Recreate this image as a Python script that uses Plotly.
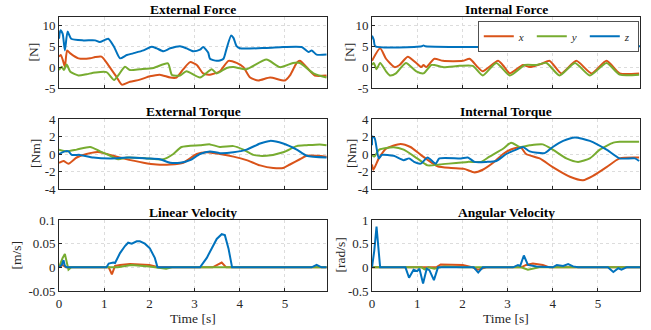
import plotly.graph_objects as go

# ---------------- data ----------------
# External Force
ef_x_t = [0, 0.04, 0.09, 0.13, 0.18, 0.25, 0.43, 0.69, 0.80, 0.94, 1.09, 1.27, 1.39, 1.57, 1.79, 2.01, 2.23, 2.46, 2.60, 2.75, 2.90, 3.05, 3.19, 3.34, 3.56, 3.75, 3.93, 4.08, 4.23, 4.41, 4.67, 5.0, 5.11, 5.26, 5.33, 5.48, 5.66, 5.92]
ef_x = [2.5, 2.9, 1.5, 0.1, 4.0, 3.3, 2.1, 2.1, 2.4, 2.5, 0.5, -2.3, -4.2, -3.5, -3.0, -2.2, -1.8, -2.5, -2.5, -0.5, 1.2, 0.5, -1.5, -1.8, -1, 1.5, 1.0, 0, -2.5, -3.2, -2.5, -3.2, -2, 1, 1.5, 0, -2, -2]
ef_y_t = [0, 0.06, 0.11, 0.17, 0.25, 0.43, 0.61, 0.80, 1.05, 1.22, 1.31, 1.46, 1.57, 1.79, 2.09, 2.41, 2.50, 2.68, 2.82, 3.12, 3.38, 3.49, 3.71, 3.86, 4.15, 4.59, 4.89, 5.18, 5.33, 5.63, 5.92]
ef_y = [-0.7, 0.1, -0.7, 0.6, -1.1, -2.0, -1.7, -1.3, -1.2, -3.1, -2, 0.1, -0.7, -0.5, -0.2, 0.9, -1.9, -2, -1, -2.5, -0.5, -1.5, -0.2, 0, -0.5, 1.8, 0, 1, 1, -1.5, -2.5]
ef_z_t = [0, 0.03, 0.08, 0.13, 0.19, 0.27, 0.54, 0.80, 0.90, 1.09, 1.22, 1.35, 1.50, 1.64, 1.87, 2.05, 2.16, 2.31, 2.46, 2.68, 2.82, 2.97, 3.12, 3.19, 3.30, 3.34, 3.49, 3.56, 3.64, 3.71, 3.81, 3.86, 3.93, 4.0, 4.59, 4.96, 5.37, 5.52, 5.59, 5.70, 5.92]
ef_z = [6.8, 8.8, 8.0, 4.0, 8.5, 6.8, 6.4, 6.4, 6.0, 6.8, 4.8, 2.1, 2.9, 3.3, 4.0, 4.9, 4.5, 3.8, 4.5, 5.0, 4.5, 3.8, 4.2, 4.8, 3.5, 2.0, 1.5, 1.6, 2.0, 4.5, 7.6, 7.0, 5.0, 4.5, 4.6, 4.8, 4.8, 3.6, 4.0, 3.0, 3.0]

# Internal Force
if_x_t = [0, 0.18, 0.31, 0.50, 0.61, 0.79, 0.98, 1.09, 1.14, 1.20, 1.38, 1.57, 2.01, 2.16, 2.34, 2.45, 2.79, 2.93, 3.05, 3.34, 3.49, 3.75, 3.93, 4.19, 4.52, 4.86, 5.19, 5.48, 5.91]
if_x = [1.5, 4.5, 2.0, 0, 0.5, 2.5, 1.0, 0, 0.5, 0, 2.0, 1.5, 1.5, 2.0, 0, -1, 1.5, 0, -1.5, 0.5, 0, 0.8, 1.5, -1.5, 1.5, -1.5, 1.5, -1.5, -1.5]
if_y_t = [0, 0.04, 0.10, 0.18, 0.31, 0.40, 0.53, 0.75, 0.98, 1.14, 1.31, 1.38, 1.57, 1.94, 2.23, 2.45, 2.75, 3.05, 3.38, 3.64, 3.86, 4.15, 4.49, 4.82, 5.19, 5.48, 5.91]
if_y = [0.5, 1, -0.5, 1.0, -1, -2, -1.5, 1.0, -1, -1.5, 0.5, 0.5, 0, 0.3, 0.3, -2, 1, -2, 0.5, 0.5, 1, -2, 1, -2, 1, -1.8, -1.8]
if_z_t = [0, 0.04, 0.07, 1.10, 1.14, 1.18, 5.93]
if_z = [7.5, 6.5, 5.0, 5.0, 5.2, 5.0, 5.0]

# External Torque
et_x_t = [0, 0.10, 0.21, 0.39, 0.61, 0.80, 0.91, 1.13, 1.42, 1.87, 2.16, 2.46, 2.75, 3.05, 3.27, 3.56, 3.86, 4.15, 4.45, 4.74, 4.96, 5.11, 5.33, 5.48, 5.92]
et_x = [-1, -0.8, -1.1, -0.4, 0, 0.2, 0.2, -0.1, -0.5, -1.0, -1.2, -1.2, -1.0, 0, 0.2, 0, -0.3, -0.7, -1.3, -1.6, -1.6, -1.2, -0.6, -0.2, -0.3]
et_y_t = [0, 0.17, 0.39, 0.69, 0.91, 1.05, 1.31, 1.50, 1.94, 2.31, 2.53, 2.71, 3.12, 3.34, 3.56, 3.86, 4.08, 4.30, 4.59, 4.96, 5.26, 5.48, 5.77, 5.92]
et_y = [0.5, 0.3, 0.5, 0.8, 0.3, 0, -0.6, -0.4, -0.5, -0.6, 0, 0.8, 1.0, 1.1, 0.8, 0.9, 0.5, -0.1, -0.2, 0.2, 0.9, 1.0, 1.1, 1.0]
et_z_t = [0, 0.13, 0.21, 0.28, 0.46, 0.76, 1.13, 1.57, 1.94, 2.23, 2.46, 2.68, 2.90, 3.12, 3.34, 3.56, 3.86, 4.15, 4.45, 4.67, 4.96, 5.26, 5.48, 5.92]
et_z = [0, 0.3, 0.3, -0.1, -0.1, -0.4, -0.5, -0.4, -0.5, -0.6, -1.0, -1.0, -0.7, 0, 0.3, 0.1, 0.2, 0.5, 1.2, 1.5, 1.2, 0.5, -0.2, -0.4]

# Internal Torque
it_x_t = [0, 0.03, 0.15, 0.31, 0.63, 0.85, 1.08, 1.45, 1.75, 2.04, 2.27, 2.45, 2.68, 2.90, 3.12, 3.30, 3.41, 3.71, 4.0, 4.38, 4.67, 4.89, 5.19, 5.48, 5.91]
it_x = [-1.2, -1.8, -0.5, 0.6, 1.15, 0.8, -0.1, -1.4, -1.6, -1.7, -2.1, -1.8, -1.0, 0, 0.6, 0.7, 0, -0.5, -1.5, -2.6, -3.0, -2.5, -1.5, -0.5, -0.4]
it_y_t = [0, 0.05, 0.16, 0.48, 0.70, 1.0, 1.23, 1.50, 2.12, 2.41, 2.60, 2.90, 3.08, 3.27, 3.49, 3.78, 4.0, 4.30, 4.56, 4.82, 5.04, 5.34, 5.48, 5.91]
it_y = [-0.1, -0.3, 0.5, 0.77, 0.5, -0.5, -1.3, -1.2, -0.9, -0.9, -0.3, 0.6, 1.3, 0.8, 1.0, 1.1, 0.5, -0.5, -0.9, -0.5, 0.5, 1.3, 1.4, 1.4]
it_z_t = [0, 0.01, 0.06, 0.15, 0.22, 0.48, 0.70, 0.82, 0.93, 1.08, 1.23, 1.41, 1.49, 1.97, 2.12, 2.27, 2.53, 2.75, 2.97, 3.19, 3.34, 3.49, 3.82, 4.0, 4.23, 4.49, 4.82, 5.19, 5.48, 5.82, 5.91]
it_z = [1.0, 2.0, 1.8, -0.5, -0.1, -0.2, -0.7, -0.5, -0.9, -1.1, -0.4, -1.1, -0.5, -0.5, -0.4, -0.9, -0.9, -0.8, 0, 0.5, 0.8, 0.3, 0.1, 0.8, 1.5, 1.9, 1.5, 0.5, -0.5, -0.5, -0.8]

# Linear Velocity
lv_x_t = [0, 0.08, 0.15, 1.10, 1.17, 1.24, 1.35, 1.57, 2.0, 2.2, 3.4, 3.6, 3.7, 5.92]
lv_x = [0, 0.005, 0, 0, -0.015, 0.003, 0.005, 0.007, 0.005, 0, 0, 0.01, 0, 0]
lv_y_t = [0, 0.08, 0.13, 0.17, 0.21, 0.27, 1.3, 1.6, 2.0, 2.37, 2.5, 5.92]
lv_y = [0, 0.02, 0.028, 0.01, -0.005, 0, 0, 0.005, 0.002, -0.003, 0, 0]
lv_z_t = [0, 0.06, 0.10, 0.13, 0.17, 1.05, 1.10, 1.20, 1.24, 1.35, 1.46, 1.53, 1.61, 1.72, 1.79, 1.90, 2.01, 2.12, 2.18, 3.12, 3.27, 3.38, 3.49, 3.60, 3.67, 3.75, 3.83, 5.59, 5.70, 5.81, 5.92]
lv_z = [0, 0.005, 0.015, 0.003, 0, 0, 0.008, 0.01, 0.009, 0.03, 0.045, 0.052, 0.05, 0.055, 0.055, 0.05, 0.04, 0.02, 0, 0, 0.02, 0.04, 0.06, 0.07, 0.068, 0.04, 0, 0, 0.005, 0, 0]

# Angular Velocity
av_x_t = [0, 1.42, 1.52, 2.01, 2.23, 2.34, 2.53, 3.3, 3.41, 3.56, 3.78, 3.93, 5.93]
av_x = [0, 0, 0.06, 0.05, 0, -0.05, 0, 0, 0.05, 0.08, 0.05, 0, 0]
av_y_t = [0, 1.1, 1.16, 1.25, 1.38, 1.6, 2.0, 3.3, 3.45, 3.7, 5.93]
av_y = [0, 0, -0.04, 0, -0.03, 0.02, 0, 0, -0.05, 0, 0]
av_z_t = [0, 0.05, 0.10, 0.14, 0.18, 0.74, 0.82, 0.92, 1.0, 1.05, 1.13, 1.21, 1.27, 1.37, 1.46, 2.25, 2.35, 2.45, 3.12, 3.23, 3.28, 3.36, 3.45, 3.64, 4.0, 4.09, 4.23, 4.34, 4.45, 4.56, 5.22, 5.34, 5.45, 5.52, 5.63, 5.93]
av_z = [0, 0.35, 0.86, 0.35, 0, 0, -0.22, -0.05, -0.08, -0.03, -0.34, -0.03, -0.06, -0.27, 0, 0, -0.11, 0, 0, 0.05, 0.03, 0.25, 0.05, 0.02, 0, 0.05, 0.03, 0.07, 0.02, 0, 0, -0.1, -0.02, -0.05, 0, 0]

titles = ["External Force", "Internal Force", "External Torque", "Internal Torque", "Linear Velocity", "Angular Velocity"]
ylabels = ["[N]", "[N]", "[Nm]", "[Nm]", "[m/s]", "[rad/s]"]
force_ticks = [-5, 0, 5, 10]
force_ticktext = ["-5", "0", "5", "10"]
torque_ticks = [-4, -2, 0, 2, 4]
torque_ticktext = ["-4", "-2", "0", "2", "4"]
lv_ticks = [-0.05, 0, 0.05, 0.1]
lv_ticktext = ["-0.05", "0", "0.05", "0.1"]
av_ticks = [-0.5, 0, 0.5, 1]
av_ticktext = ["-0.5", "0", "0.5", "1"]
time_ticks = [0, 1, 2, 3, 4, 5]
series_names = ["<i>x</i>", "<i>y</i>", "<i>z</i>"]

# ---------------- figure ----------------
W, H = 651, 330
C_X, C_Y, C_Z = "#D95319", "#77AC30", "#0072BD"
FONT = "'Liberation Serif', 'Times New Roman', Times, serif"
AXC = "#262626"

panels = [
    (ef_x_t, ef_x, ef_y_t, ef_y, ef_z_t, ef_z, [-5, 12], force_ticks, force_ticktext, True),
    (if_x_t, if_x, if_y_t, if_y, if_z_t, if_z, [-5, 12], force_ticks, force_ticktext, True),
    (et_x_t, et_x, et_y_t, et_y, et_z_t, et_z, [-4, 4], torque_ticks, torque_ticktext, True),
    (it_x_t, it_x, it_y_t, it_y, it_z_t, it_z, [-4, 4], torque_ticks, torque_ticktext, True),
    (lv_x_t, lv_x, lv_y_t, lv_y, lv_z_t, lv_z, [-0.05, 0.1], lv_ticks, lv_ticktext, False),
    (av_x_t, av_x, av_y_t, av_y, av_z_t, av_z, [-0.5, 1], av_ticks, av_ticktext, False),
]

col_px = [(59, 327), (372, 640)]
row_px = [(17, 88), (119, 189), (220, 291)]
ylabel_px = [33, 349, 35, 351, 16, 340]

fig = go.Figure()
for i, (xt, xv, yt, yv, zt, zv, yr, tv, tt, smooth) in enumerate(panels):
    r, c = divmod(i, 2)
    ax = i + 1
    xa = "x" if ax == 1 else f"x{ax}"
    ya = "y" if ax == 1 else f"y{ax}"
    shape = "spline" if smooth else "linear"
    for (tt_, vv, col, nm) in [(xt, xv, C_X, series_names[0]), (yt, yv, C_Y, series_names[1]), (zt, zv, C_Z, series_names[2])]:
        fig.add_trace(go.Scatter(
            x=tt_, y=vv, mode="lines", name=nm, xaxis=xa, yaxis=ya,
            line=dict(color=col, width=2, shape=shape, smoothing=0.6),
            showlegend=(i == 1),
        ))
    x0, x1 = col_px[c]
    y0, y1 = row_px[r]
    xdom = [x0 / W, x1 / W]
    ydom = [1 - y1 / H, 1 - y0 / H]
    xkey = "xaxis" if ax == 1 else f"xaxis{ax}"
    ykey = "yaxis" if ax == 1 else f"yaxis{ax}"
    common = dict(ticks="inside", ticklen=3, tickcolor=AXC, showline=True, mirror=True,
                  linecolor=AXC, linewidth=0.8, showgrid=True, gridcolor="#dcdcdc",
                  griddash="dot", gridwidth=0.8, zeroline=False, automargin=False,
                  tickfont=dict(family=FONT, size=13, color=AXC))
    fig.update_layout({
        xkey: dict(domain=xdom, range=[0, 5.93], anchor=ya, tickvals=time_ticks,
                   ticktext=[str(v) for v in time_ticks], showticklabels=(r == 2), **common),
        ykey: dict(domain=ydom, range=yr, anchor=xa, tickvals=tv, ticktext=tt, **common),
    })
    fig.add_annotation(text=f"<b>{titles[i]}</b>", xref="paper", yref="paper",
                       x=(xdom[0] + xdom[1]) / 2, y=1 - (y0 - 7.5) / H, yanchor="middle", xanchor="center",
                       showarrow=False, font=dict(family=FONT, size=13.5, color="black"))
    fig.add_annotation(text=ylabels[i], xref="paper", yref="paper",
                       x=ylabel_px[i] / W, y=(ydom[0] + ydom[1]) / 2, textangle=-90,
                       xanchor="center", yanchor="middle", showarrow=False,
                       font=dict(family=FONT, size=13.5, color=AXC))
    if r == 2:
        fig.add_annotation(text="Time [s]", xref="paper", yref="paper",
                           x=(xdom[0] + xdom[1]) / 2, y=1 - 318 / H, xanchor="center",
                           yanchor="middle", showarrow=False,
                           font=dict(family=FONT, size=13.5, color=AXC))

fig.update_layout(
    template="none",
    width=W, height=H, margin=dict(l=0, r=0, t=0, b=0, autoexpand=False),
    paper_bgcolor="white", plot_bgcolor="white",
    font=dict(family=FONT, size=13, color=AXC),
    legend=dict(orientation="h", x=639 / W, xanchor="right", y=1 - 21 / H, yanchor="top",
                bgcolor="white", bordercolor=AXC, borderwidth=0.8,
                font=dict(family=FONT, size=11, color=AXC),
                itemwidth=30, tracegroupgap=0, entrywidth=8, entrywidthmode="pixels"),
)

fig.write_html("out.html", config={"displayModeBar": False},
               post_script="document.body.style.margin='0';document.body.style.overflow='hidden';")
